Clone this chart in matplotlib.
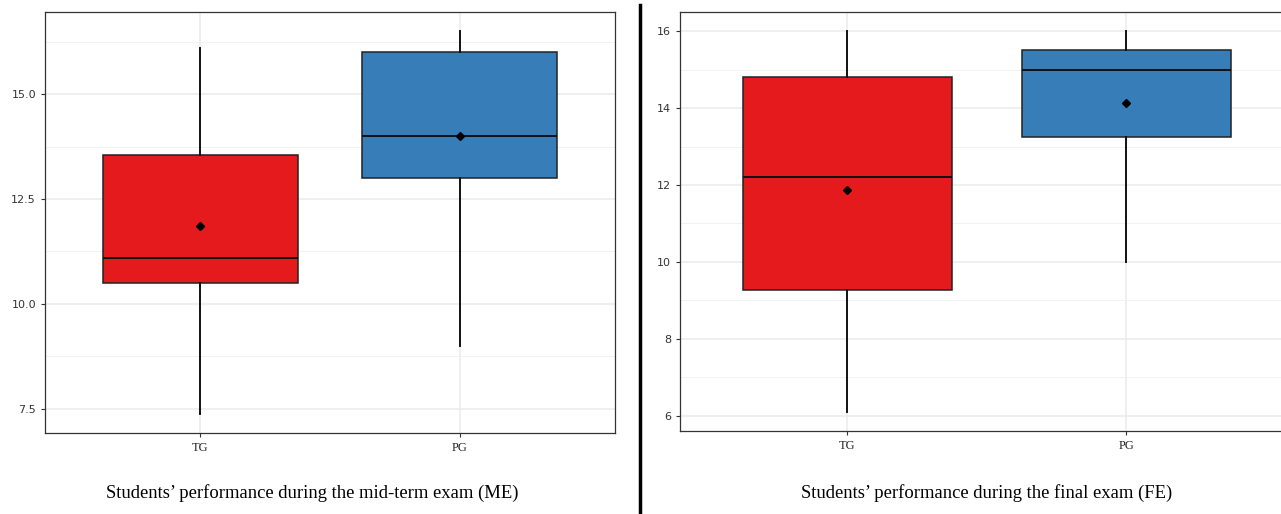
import matplotlib
matplotlib.use("Agg")
import matplotlib.pyplot as plt
from matplotlib.ticker import MultipleLocator
from matplotlib.lines import Line2D

groups = ["TG", "PG"]
colors = ["#E41A1C", "#377EB8"]

# mid-term exam (ME)
me_whislo = [7.38, 9.0]
me_q1 = [10.5, 13.0]
me_med = [11.1, 14.0]
me_q3 = [13.55, 16.0]
me_whishi = [16.1, 16.5]
me_mean = [11.85, 14.0]

# final exam (FE)
fe_whislo = [6.1, 10.0]
fe_q1 = [9.27, 13.25]
fe_med = [12.2, 15.0]
fe_q3 = [14.82, 15.5]
fe_whishi = [16.0, 16.0]
fe_mean = [11.87, 14.13]

W, H = 1281, 514


def draw_panel(ax, whislo, q1, med, q3, whishi, mean, major, minor, fmt):
    stats = []
    for i, g in enumerate(groups):
        stats.append(dict(label=g, whislo=whislo[i], q1=q1[i], med=med[i],
                          q3=q3[i], whishi=whishi[i], fliers=[]))
    bp = ax.bxp(stats, positions=[1, 2], widths=0.75, patch_artist=True,
                showcaps=False, showfliers=False, zorder=3,
                boxprops=dict(edgecolor="#222222", linewidth=1.1),
                medianprops=dict(color="#111111", linewidth=1.4),
                whiskerprops=dict(color="#111111", linewidth=1.4))
    for patch, c in zip(bp["boxes"], colors):
        patch.set_facecolor(c)
    ax.plot([1, 2], mean, linestyle="none", marker="D", markersize=3.6,
            color="black", zorder=5)

    ax.yaxis.set_major_locator(MultipleLocator(major))
    ax.yaxis.set_minor_locator(MultipleLocator(minor))
    ax.yaxis.set_major_formatter(fmt)
    ax.grid(True, which="major", color="#ebebeb", linewidth=1.1, zorder=0)
    ax.grid(True, which="minor", axis="y", color="#f2f2f2", linewidth=0.7, zorder=0)
    ax.set_axisbelow(True)
    ax.tick_params(axis="y", which="minor", length=0)
    ax.tick_params(axis="both", which="major", length=3, width=0.8,
                   color="#333333", labelcolor="#333333")
    ax.tick_params(axis="y", labelsize=8)
    for lab in ax.get_xticklabels():
        lab.set_fontfamily("Liberation Serif")
        lab.set_fontsize(9)
        lab.set_color("#222222")
    for s in ax.spines.values():
        s.set_color("#333333")
        s.set_linewidth(0.9)


fig = plt.figure(figsize=(W / 100, H / 100), dpi=100)

ax1 = fig.add_axes([45 / W, 1 - 433 / H, 570 / W, 421 / H])
draw_panel(ax1, me_whislo, me_q1, me_med, me_q3, me_whishi, me_mean,
           2.5, 1.25, "{x:.1f}")
ax1.set_xlim(0.4, 2.6)
ax1.set_ylim(6.92, 16.96)

ax2 = fig.add_axes([680 / W, 1 - 431 / H, 601 / W, 419 / H])
draw_panel(ax2, fe_whislo, fe_q1, fe_med, fe_q3, fe_whishi, fe_mean,
           2, 1, "{x:.0f}")
ax2.set_xlim(0.4, 0.4 + 601 / 279)
ax2.set_ylim(5.6, 16.5)
ax2.spines["right"].set_visible(False)

fig.add_artist(Line2D([640 / W, 640 / W], [0, 1 - 5 / H], color="black",
                      linewidth=2.5, transform=fig.transFigure))

fig.text(312 / W, 1 - 493 / H,
         "Students\u2019 performance during the mid-term exam (ME)",
         ha="center", va="center", family="Liberation Serif", fontsize=13.4)
fig.text(987 / W, 1 - 493 / H,
         "Students\u2019 performance during the final exam (FE)",
         ha="center", va="center", family="Liberation Serif", fontsize=13.4)

fig.savefig("out.png", dpi=100)
